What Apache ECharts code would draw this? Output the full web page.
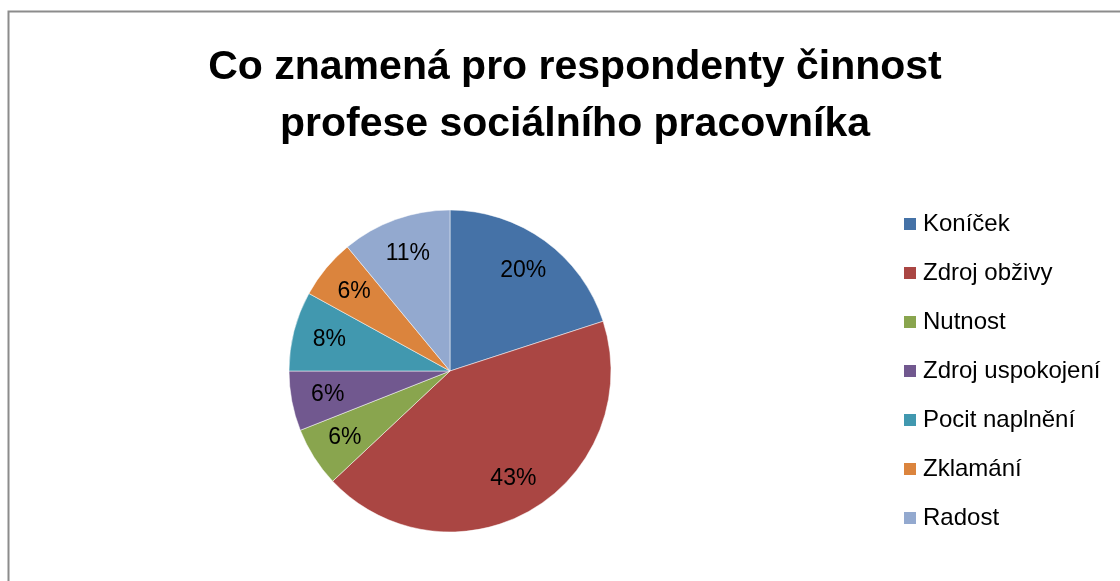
<!DOCTYPE html>
<html>
<head>
<meta charset="utf-8">
<script src="https://cdn.jsdelivr.net/npm/echarts@6/dist/echarts.min.js"></script>
<style>
  html, body { margin: 0; padding: 0; background: #fff; }
  #chart { width: 1120px; height: 581px; }
</style>
</head>
<body>
<div id="chart"></div>
<script>
const categories = ['Koníček', 'Zdroj obživy', 'Nutnost', 'Zdroj uspokojení', 'Pocit naplnění', 'Zklamání', 'Radost']
const percents = [20, 43, 6, 6, 8, 6, 11]
const colors = ['#4572A7', '#AA4643', '#89A54E', '#71588F', '#4198AF', '#DB843D', '#93A9CF']

const font = 'Liberation Sans'
const data = categories.map((name, i) => ({ name, value: percents[i] }))

const chart = echarts.init(document.getElementById('chart'))
chart.setOption({
  animation: false,
  color: colors,
  title: {
    text: 'Co znamená pro respondenty činnost\nprofese sociálního pracovníka',
    left: 570,
    top: 34,
    textAlign: 'center',
    textStyle: { fontFamily: font, fontSize: 41, fontWeight: 'bold', color: '#000', lineHeight: 57 },
  },
  legend: {
    orient: 'vertical',
    left: 897,
    top: 207,
    itemWidth: 14,
    itemHeight: 14,
    itemGap: 25,
    icon: 'rect',
    data: categories,
    textStyle: { fontFamily: font, fontSize: 24, color: '#000', padding: [0, 0, 0, 1] },
  },
  graphic: [
    {
      type: 'rect',
      shape: { x: 8.5, y: 11.5, width: 1200, height: 700 },
      style: { fill: 'none', stroke: '#8c8c8c', lineWidth: 2 },
      silent: true,
    },
  ],
  series: [
    {
      type: 'pie',
      center: [450, 371],
      radius: [0, 161],
      startAngle: 90,
      clockwise: true,
      label: { show: false },
      labelLine: { show: false },
      itemStyle: { borderColor: '#fff', borderWidth: 0.5 },
      data,
    },
    {
      // transparent ring only to place the percent labels further out
      type: 'pie',
      center: [450, 371],
      radius: [82, 161],
      startAngle: 90,
      clockwise: true,
      silent: true,
      legendHoverLink: false,
      itemStyle: { color: 'transparent' },
      label: {
        show: true,
        position: 'inside',
        formatter: '{c}%',
        fontFamily: font,
        fontSize: 23,
        color: '#000',
      },
      labelLine: { show: false },
      data,
    },
  ],
})
</script>
</body>
</html>
